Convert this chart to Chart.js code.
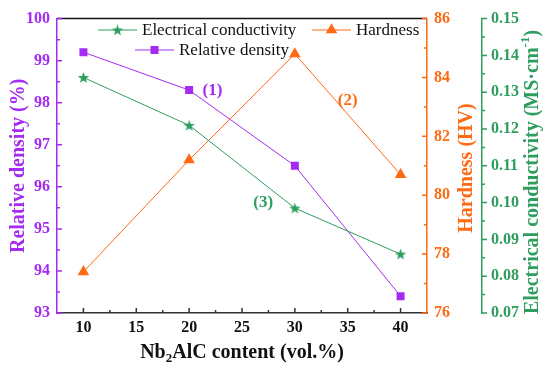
<!DOCTYPE html>
<html>
<head>
<meta charset="utf-8">
<script src="https://cdn.jsdelivr.net/npm/chart.js@4.4.1/dist/chart.umd.min.js"></script>
<style>
  html, body { margin: 0; padding: 0; background: #fff; }
</style>
</head>
<body>
<canvas id="chart" width="550" height="373"></canvas>
<script>
// Nb2AlC content (vol.%)
const contents = [10, 20, 30, 40];
const relativeDensity = [99.2, 98.3, 96.5, 93.4];
const hardness = [77.4, 81.2, 84.8, 80.7];
const conductivity = [0.134, 0.121, 0.0985, 0.086];

const xTicks = [10, 15, 20, 25, 30, 35, 40];
const densityTicks = [93, 94, 95, 96, 97, 98, 99, 100];
const hardnessTicks = [76, 78, 80, 82, 84, 86];
const conductivityTicks = [0.07, 0.08, 0.09, 0.10, 0.11, 0.12, 0.13, 0.14, 0.15];

const seriesNames = ['Electrical conductivity', 'Hardness', 'Relative density'];
const notes = ['(1)', '(2)', '(3)'];

const purple = '#A52BF2';
const orange = '#FF6A13';
const green = '#2E9E5E';
const serif = 'Liberation Serif';

function starImage(color) {
    const c = document.createElement('canvas');
    c.width = 13;
    c.height = 13;
    const g = c.getContext('2d');
    g.fillStyle = color;
    g.beginPath();
    for (let i = 0; i < 10; i++) {
        const r = i % 2 ? 2.4 : 6;
        const a = -Math.PI / 2 + i * Math.PI / 5;
        g.lineTo(6.5 + r * Math.cos(a), 7 + r * Math.sin(a));
    }
    g.closePath();
    g.fill();
    return c;
}
const star = starImage(green);

// text with sub/superscripts, centred on (x, y)
function richText(ctx, parts, x, y, size, color, angle) {
    ctx.save();
    ctx.translate(x, y);
    ctx.rotate(angle);
    ctx.fillStyle = color;
    ctx.textBaseline = 'alphabetic';
    ctx.textAlign = 'left';
    const fontOf = p => 'bold ' + (p[1] ? size * 0.65 : size) + 'px "' + serif + '"';
    let total = 0;
    parts.forEach(p => { ctx.font = fontOf(p); total += ctx.measureText(p[0]).width; });
    let cx = -total / 2;
    const base = size * 0.33;
    parts.forEach(p => {
        ctx.font = fontOf(p);
        let dy = 0;
        if (p[1] === 'sub') dy = size * 0.22;
        if (p[1] === 'sup') dy = -size * 0.42;
        ctx.fillText(p[0], cx, base + dy);
        cx += ctx.measureText(p[0]).width;
    });
    ctx.restore();
}

function axisTicks(ctx, scale, majors, at, dir, color) {
    const step = majors[1] - majors[0];
    const minors = [];
    for (let i = 0; i < majors.length - 1; i++) minors.push((majors[i] + majors[i + 1]) / 2);
    const lo = majors[0] - step / 2, hi = majors[majors.length - 1] + step / 2;
    if (lo > scale.min + 1e-9) minors.push(lo);
    if (hi < scale.max - 1e-9) minors.push(hi);
    ctx.save();
    ctx.strokeStyle = color;
    ctx.lineWidth = 1.5;
    ctx.beginPath();
    const mark = (v, len) => {
        const p = scale.getPixelForValue(v);
        if (scale.isHorizontal()) {
            ctx.moveTo(p, at);
            ctx.lineTo(p, at + dir * len);
        } else {
            ctx.moveTo(at, p);
            ctx.lineTo(at + dir * len, p);
        }
    };
    majors.forEach(v => mark(v, 5));
    minors.forEach(v => mark(v, 3));
    ctx.stroke();
    ctx.restore();
}

function marker(ctx, style, color, x, y) {
    ctx.save();
    ctx.fillStyle = color;
    if (style === 'rect') {
        ctx.fillRect(x - 4, y - 4, 8, 8);
    } else if (style === 'triangle') {
        const r = 6.7;
        ctx.beginPath();
        ctx.moveTo(x, y - r);
        ctx.lineTo(x + r * Math.sin(2 * Math.PI / 3), y + r / 2);
        ctx.lineTo(x - r * Math.sin(2 * Math.PI / 3), y + r / 2);
        ctx.closePath();
        ctx.fill();
    } else {
        ctx.drawImage(style, x - style.width / 2, y - style.height / 2);
    }
    ctx.restore();
}

const decor = {
    id: 'decor',
    afterDraw(chart) {
        const ctx = chart.ctx;
        const area = chart.chartArea;
        const s = chart.scales;

        // top frame
        ctx.save();
        ctx.strokeStyle = '#111';
        ctx.lineWidth = 1.5;
        ctx.beginPath();
        ctx.moveTo(area.left, area.top);
        ctx.lineTo(area.right, area.top);
        ctx.stroke();
        ctx.restore();

        axisTicks(ctx, s.x, xTicks, area.bottom, -1, '#333');
        axisTicks(ctx, s.yR, densityTicks, area.left, 1, purple);
        axisTicks(ctx, s.yH, hardnessTicks, s.yH.left, -1, orange);
        axisTicks(ctx, s.yC, conductivityTicks, s.yC.left, 1, green);

        // axis titles
        richText(ctx, [['Relative density (%)']], 17, (area.top + area.bottom) / 2, 20, purple, -Math.PI / 2);
        richText(ctx, [['Hardness (HV)']], 465, 168, 20, orange, -Math.PI / 2);
        richText(ctx, [['Electrical conductivity (MS·cm'], ['-1', 'sup'], [')']], 531, 172, 20, green, -Math.PI / 2);
        richText(ctx, [['Nb'], ['2', 'sub'], ['AlC content (vol.%)']], (area.left + area.right) / 2, 351, 20, '#111', 0);

        // notes on the curves
        const noteAt = [
            [s.x.getPixelForValue(22.2), s.yR.getPixelForValue(98.31), purple],
            [s.x.getPixelForValue(35.0), s.yH.getPixelForValue(83.27), orange],
            [s.x.getPixelForValue(27.0), s.yC.getPixelForValue(0.1004), green]
        ];
        notes.forEach((t, i) => richText(ctx, [[t]], noteAt[i][0], noteAt[i][1], 17, noteAt[i][2], 0));

        // legend
        const items = chart.data.datasets.map(d => ({label: d.label, color: d.backgroundColor, style: d.pointStyle}));
        const spots = [[98, 30], [312, 30], [135, 50]];
        ctx.save();
        ctx.font = '17px "' + serif + '"';
        ctx.textBaseline = 'middle';
        items.forEach((it, i) => {
            const [lx, ly] = spots[i];
            ctx.strokeStyle = it.color;
            ctx.lineWidth = 1;
            ctx.beginPath();
            ctx.moveTo(lx, ly);
            ctx.lineTo(lx + 39, ly);
            ctx.stroke();
            marker(ctx, it.style, it.color, lx + 19.5, ly);
            ctx.fillStyle = '#111';
            ctx.fillText(it.label, lx + 44, ly + 1);
        });
        ctx.restore();
    }
};

const tickFont = {family: serif, size: 16, weight: 'bold'};
const setTicks = list => scale => { scale.ticks = list.map(value => ({value})); };

new Chart(document.getElementById('chart'), {
    type: 'line',
    data: {
        datasets: [{
            label: seriesNames[0],
            data: contents.map((x, i) => ({x, y: conductivity[i]})),
            yAxisID: 'yC',
            borderColor: green,
            backgroundColor: green,
            borderWidth: 1,
            pointStyle: star,
            pointRadius: 6,
            pointBorderWidth: 0
        }, {
            label: seriesNames[1],
            data: contents.map((x, i) => ({x, y: hardness[i]})),
            yAxisID: 'yH',
            borderColor: orange,
            backgroundColor: orange,
            borderWidth: 1,
            pointStyle: 'triangle',
            pointRadius: 6.7,
            pointBorderWidth: 0
        }, {
            label: seriesNames[2],
            data: contents.map((x, i) => ({x, y: relativeDensity[i]})),
            yAxisID: 'yR',
            borderColor: purple,
            backgroundColor: purple,
            borderWidth: 1,
            pointStyle: 'rect',
            pointRadius: 5.66,
            pointBorderWidth: 0
        }]
    },
    options: {
        responsive: false,
        animation: false,
        layout: {padding: {top: 16, left: 0, right: 0, bottom: 0}},
        plugins: {legend: {display: false}, tooltip: {enabled: false}},
        scales: {
            x: {
                type: 'linear', min: 7.5, max: 42.5,
                afterBuildTicks: setTicks(xTicks),
                afterFit: scale => { scale.height = 60; },
                grid: {display: false, drawTicks: false},
                border: {display: true, color: '#333', width: 1.5},
                ticks: {font: tickFont, color: '#111', padding: 5, maxRotation: 0, autoSkip: false}
            },
            yR: {
                position: 'left', min: 93, max: 100,
                afterBuildTicks: setTicks(densityTicks),
                afterFit: scale => { scale.width = 57; },
                grid: {display: false, drawTicks: false},
                border: {display: true, color: purple, width: 1.5},
                ticks: {font: tickFont, color: purple, padding: 7, autoSkip: false}
            },
            yH: {
                position: 'right', min: 76, max: 86,
                afterBuildTicks: setTicks(hardnessTicks),
                afterFit: scale => { scale.width = 55; },
                grid: {display: false, drawTicks: false},
                border: {display: true, color: orange, width: 1.5},
                ticks: {font: tickFont, color: orange, padding: 7, autoSkip: false}
            },
            yC: {
                position: 'right', min: 0.07, max: 0.15,
                afterBuildTicks: setTicks(conductivityTicks),
                afterFit: scale => { scale.width = 68; },
                grid: {display: false, drawTicks: false},
                border: {display: true, color: green, width: 1.5},
                ticks: {font: tickFont, color: green, padding: 9, autoSkip: false,
                    callback: v => v.toFixed(2)}
            }
        }
    },
    plugins: [decor]
});
</script>
</body>
</html>
